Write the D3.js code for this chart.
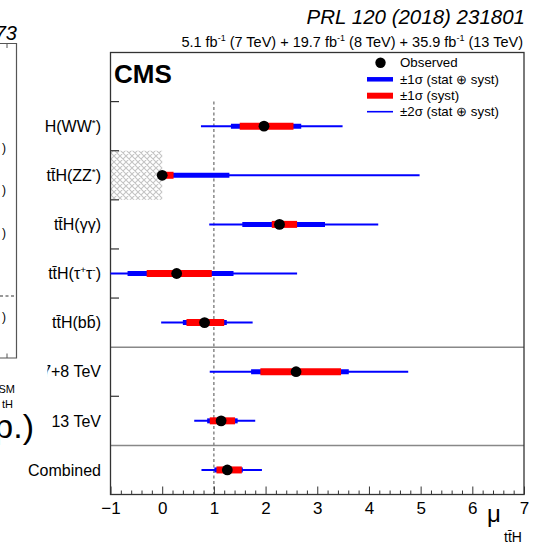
<!DOCTYPE html>
<html>
<head>
<meta charset="utf-8">
<script src="https://cdn.jsdelivr.net/npm/d3@7"></script>
<style>
  body { margin: 0; background: #fff; }
  svg { display: block; }
  text { font-family: "Liberation Sans", Arial, Helvetica, sans-serif; fill: #000; }
</style>
</head>
<body>
<svg id="chart" width="539" height="545"></svg>
<script>
// ttH signal strength per channel and combination
const channels  = ["tt\u0304H(WW^{*})", "tt\u0304H(ZZ^{*})", "tt\u0304H(\u03b3\u03b3)", "tt\u0304H(\u03c4^{+}\u03c4^{-})",
                   "tt\u0304H(bb\u0304)", "7+8 TeV", "13 TeV", "Combined"];
const muObs     = [1.97, 0.00, 2.27, 0.28, 0.82, 2.59, 1.14, 1.26];
const tot1Lo    = [1.33, 0.00, 1.55, -0.67, 0.40, 1.72, 0.87, 1.01];
const tot1Hi    = [2.69, 1.30, 3.15, 1.38, 1.25, 3.61, 1.46, 1.56];
const syst1Lo   = [1.50, 0.00, 2.12, -0.30, 0.47, 1.90, 0.92, 1.05];
const syst1Hi   = [2.54, 0.22, 2.61, 0.96, 1.20, 3.46, 1.41, 1.54];
const tot2Lo    = [0.75, 0.00, 0.91, -1.00, -0.02, 0.92, 0.62, 0.76];
const tot2Hi    = [3.49, 4.98, 4.18, 2.61, 1.75, 4.76, 1.80, 1.93];
const xTicks    = [-1, 0, 1, 2, 3, 4, 5, 6, 7];
const legendRows = ["Observed", "\u00b11\u03c3 (stat \u2295 syst)", "\u00b11\u03c3 (syst)", "\u00b12\u03c3 (stat \u2295 syst)"];
const separatorsBefore = ["7+8 TeV", "Combined"];

const svg = d3.select("#chart");
const frameL = 110.5, frameR = 524, frameT = 52.5, frameB = 494.5;

const x = d3.scaleLinear().domain([-1, 7]).range([frameL, frameR]);
const y = d3.scaleBand().domain(["", ...channels]).range([frameT, frameB]).paddingInner(0).paddingOuter(0);

// rich text: ^{...} becomes a raised, smaller tspan; the next run drops back to the baseline
function rich(sel, str, size) {
  const parts = str.split(/(\^\{[^}]*\})/).filter(s => s.length);
  let pending = 0;
  parts.forEach(p => {
    const m = p.match(/^\^\{([^}]*)\}$/);
    if (m) {
      sel.append("tspan").attr("font-size", size * 0.62).attr("dy", pending - size * 0.38).text(m[1]);
      pending = size * 0.38;
    } else {
      const t = sel.append("tspan").attr("font-size", size).text(p);
      if (pending) t.attr("dy", pending);
      pending = 0;
    }
  });
}

// hatch for the boundary region of ZZ
const defs = svg.append("defs");
const pat = defs.append("pattern").attr("id", "xhatch").attr("patternUnits", "userSpaceOnUse")
  .attr("width", 6).attr("height", 6);
pat.append("path").attr("d", "M0,0 L6,6 M6,0 L0,6 M-1,5 L1,7 M5,-1 L7,1 M-1,1 L1,-1 M5,7 L7,5")
  .attr("stroke", "#c4c4c4").attr("stroke-width", 1.1).attr("fill", "none");

svg.append("rect")
  .attr("x", x(-1)).attr("y", y(channels[1]))
  .attr("width", x(0) - x(-1)).attr("height", y.bandwidth())
  .attr("fill", "url(#xhatch)");

// SM reference line
svg.append("line")
  .attr("x1", x(1)).attr("x2", x(1))
  .attr("y1", y(channels[0])).attr("y2", frameB)
  .attr("stroke", "#777").attr("stroke-width", 1.3).attr("stroke-dasharray", "3,2.5");

// group separators
separatorsBefore.forEach(c => {
  svg.append("line").attr("x1", frameL).attr("x2", frameR)
    .attr("y1", y(c)).attr("y2", y(c))
    .attr("stroke", "#888").attr("stroke-width", 1.5);
});

// bottom axis: major and minor ticks pointing inward
const minor = d3.range(-1, 7.0001, 0.2).filter(v => Math.abs(v - Math.round(v)) > 1e-6);
svg.append("g").attr("transform", `translate(0,${frameB})`)
  .call(d3.axisBottom(x).tickValues(minor).tickSize(-4).tickFormat(""))
  .call(g => g.select(".domain").remove())
  .call(g => g.selectAll("line").attr("stroke", "#333"));
svg.append("g").attr("transform", `translate(0,${frameB})`)
  .call(d3.axisBottom(x).tickValues(xTicks).tickSize(-8).tickPadding(7.5).tickFormat(d3.format("d")))
  .call(g => g.select(".domain").remove())
  .call(g => g.selectAll("line").attr("stroke", "#333"))
  .call(g => g.selectAll("text").attr("font-size", 17).attr("font-family", "Liberation Sans, Arial, sans-serif").attr("fill", "#000"));

// left ticks at band boundaries
channels.forEach(c => {
  if (separatorsBefore.includes(c)) return;
  svg.append("line").attr("x1", frameL).attr("x2", frameL + 8.5)
    .attr("y1", y(c)).attr("y2", y(c)).attr("stroke", "#333").attr("stroke-width", 1.2);
});

// frame
svg.append("rect").attr("x", frameL).attr("y", frameT)
  .attr("width", frameR - frameL).attr("height", frameB - frameT)
  .attr("fill", "none").attr("stroke", "#333").attr("stroke-width", 1.3);

// intervals and points
const rows = svg.append("g").selectAll("g").data(channels).join("g")
  .attr("transform", c => `translate(0,${y(c) + y.bandwidth() / 2})`);
rows.append("line").attr("x1", (c, i) => x(tot2Lo[i])).attr("x2", (c, i) => x(tot2Hi[i]))
  .attr("stroke", "#0000ff").attr("stroke-width", 2);
rows.append("line").attr("x1", (c, i) => x(tot1Lo[i])).attr("x2", (c, i) => x(tot1Hi[i]))
  .attr("stroke", "#0000ff").attr("stroke-width", 5);
rows.append("line").attr("x1", (c, i) => x(syst1Lo[i])).attr("x2", (c, i) => x(syst1Hi[i]))
  .attr("stroke", "#ff0000").attr("stroke-width", 7);
rows.append("circle").attr("cx", (c, i) => x(muObs[i])).attr("r", 5.4).attr("fill", "#000");

// channel labels
channels.forEach(c => {
  const t = svg.append("text").attr("x", 101).attr("y", y(c) + y.bandwidth() / 2 + 16 * 0.36)
    .attr("text-anchor", "end").attr("font-size", 16);
  rich(t, c, 16);
});

// CMS label
svg.append("text").attr("x", 114).attr("y", 83).attr("font-size", 26).attr("font-weight", "bold").text("CMS");

// legend
const lx0 = 367, lx1 = 393, ltx = 400, ly = [62.7, 79.3, 95.7, 111.7];
svg.append("circle").attr("cx", 380.5).attr("cy", ly[0]).attr("r", 5.2).attr("fill", "#000");
svg.append("line").attr("x1", lx0).attr("x2", lx1).attr("y1", ly[1]).attr("y2", ly[1]).attr("stroke", "#0000ff").attr("stroke-width", 4.5);
svg.append("line").attr("x1", lx0).attr("x2", lx1).attr("y1", ly[2]).attr("y2", ly[2]).attr("stroke", "#ff0000").attr("stroke-width", 6);
svg.append("line").attr("x1", lx0).attr("x2", lx1).attr("y1", ly[3]).attr("y2", ly[3]).attr("stroke", "#0000ff").attr("stroke-width", 1.6);
legendRows.forEach((s, i) => {
  svg.append("text").attr("x", ltx).attr("y", ly[i]).attr("dy", "0.36em").attr("font-size", 13.3).text(s);
});

// axis title
svg.append("text").attr("x", 487).attr("y", 522).attr("font-size", 24).text("\u03bc");
svg.append("text").attr("x", 504).attr("y", 542).attr("font-size", 14).text("tt\u0304H");

// luminosity and reference
const lum = svg.append("text").attr("x", 523).attr("y", 46.5).attr("text-anchor", "end").attr("font-size", 14.5);
rich(lum, "5.1 fb^{-1} (7 TeV) + 19.7 fb^{-1} (8 TeV) + 35.9 fb^{-1} (13 TeV)", 14.5);
svg.append("text").attr("x", 525).attr("y", 24).attr("text-anchor", "end")
  .attr("font-size", 20.5).attr("font-style", "italic").text("PRL 120 (2018) 231801");

// neighbouring panel on the slide, partly hidden
svg.append("path").attr("d", "M0,0 H45 V350 H47.5 V445 H0 Z").attr("fill", "#fff");
svg.append("text").attr("x", 17).attr("y", 40).attr("text-anchor", "end")
  .attr("font-size", 20).attr("font-style", "italic").text("73");
svg.append("path").attr("d", "M0,43.5 H16.5 V358 H0").attr("fill", "none").attr("stroke", "#555").attr("stroke-width", 1.2);
svg.append("path").attr("d", "M7,43.5 V48 M7,358 V353.5").attr("stroke", "#555").attr("stroke-width", 1);
svg.append("line").attr("x1", 0).attr("x2", 14).attr("y1", 296).attr("y2", 296)
  .attr("stroke", "#333").attr("stroke-width", 1.2).attr("stroke-dasharray", "3,2.5");
[148, 190, 233, 317].forEach(v => {
  svg.append("text").attr("x", 2).attr("y", v).attr("dy", "0.36em").attr("font-size", 12).text(")");
});
svg.append("text").attr("x", 15).attr("y", 393).attr("text-anchor", "end").attr("font-size", 11).text("SM");
svg.append("text").attr("x", 13).attr("y", 408).attr("text-anchor", "end").attr("font-size", 11).text("tH");
svg.append("text").attr("x", 34).attr("y", 438).attr("text-anchor", "end").attr("font-size", 34).text("p.)");
</script>
</body>
</html>
